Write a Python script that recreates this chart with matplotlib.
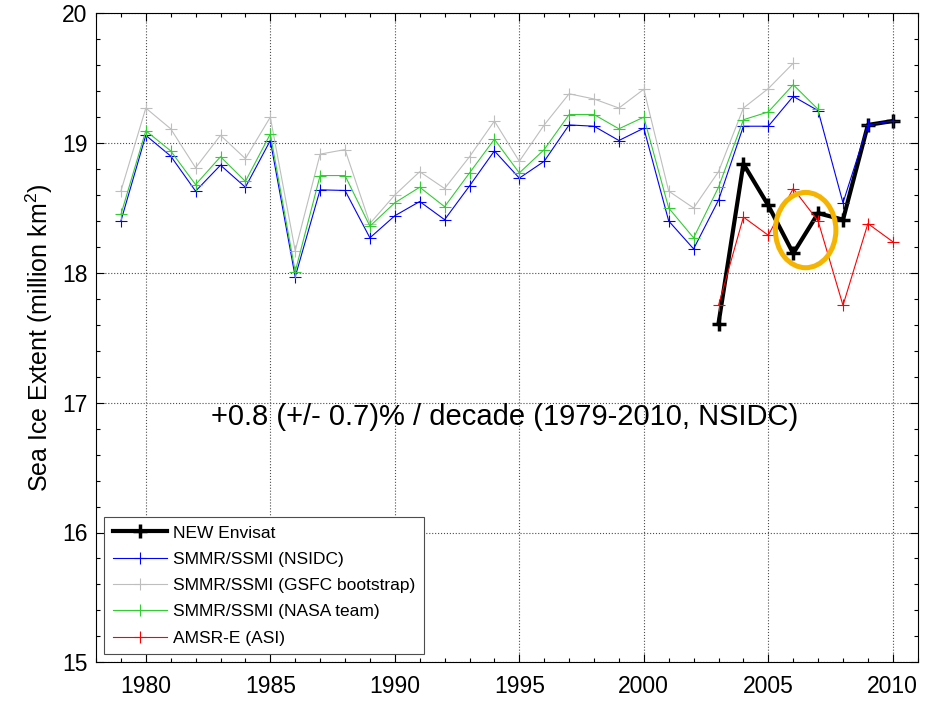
import numpy as np
import matplotlib
matplotlib.use("Agg")
import matplotlib.pyplot as plt
from matplotlib.patches import Ellipse
from matplotlib.ticker import MultipleLocator

plt.rcParams['font.family'] = ['Liberation Sans', 'DejaVu Sans']
plt.rcParams['mathtext.fontset'] = 'custom'
plt.rcParams['mathtext.rm'] = 'Liberation Sans'
plt.rcParams['mathtext.it'] = 'Liberation Sans'

# yearly sea ice extent, million km^2
years_nsidc = np.arange(1979, 2011)
nsidc = [18.40, 19.06, 18.90, 18.63, 18.83, 18.66, 19.02, 17.97, 18.64, 18.635,
         18.27, 18.44, 18.55, 18.41, 18.67, 18.94, 18.73, 18.86, 19.14, 19.13,
         19.02, 19.115, 18.40, 18.185, 18.56, 19.13, 19.13, 19.36, 19.25, 18.54,
         19.14, 19.17]

years_gsfc = np.arange(1979, 2007)
gsfc = [18.63, 19.27, 19.11, 18.81, 19.06, 18.88, 19.20, 18.17, 18.915, 18.95,
        18.38, 18.60, 18.78, 18.65, 18.895, 19.17, 18.86, 19.14, 19.38, 19.34,
        19.27, 19.415, 18.63, 18.50, 18.78, 19.27, 19.42, 19.615]

years_nasa = np.arange(1979, 2008)
nasa = [18.45, 19.095, 18.94, 18.68, 18.895, 18.705, 19.07, 18.01, 18.75, 18.75,
        18.36, 18.54, 18.66, 18.51, 18.77, 19.03, 18.77, 18.95, 19.22, 19.22,
        19.11, 19.20, 18.50, 18.27, 18.66, 19.18, 19.24, 19.45, 19.26]

years_sat = np.arange(2003, 2011)
envisat = [17.61, 18.84, 18.52, 18.15, 18.46, 18.41, 19.14, 19.17]
amsre = [17.75, 18.43, 18.29, 18.65, 18.40, 17.75, 18.38, 18.24]

fig = plt.figure(figsize=(9.38, 7.04), dpi=100)
ax = fig.add_axes([96 / 938, 1 - 662.3 / 704, 821.7 / 938, 649 / 704])

thin = dict(lw=0.8, marker='+', ms=9, mew=0.8)
ax.plot(years_sat, envisat, color='black', lw=3, marker='+', ms=10, mew=2.5,
        label='NEW Envisat')
ax.plot(years_nsidc, nsidc, color='#0000ff', label='SMMR/SSMI (NSIDC)', **thin)
ax.plot(years_gsfc, gsfc, color='#bebebe', label='SMMR/SSMI (GSFC bootstrap)', **thin)
ax.plot(years_nasa, nasa, color='#33cc33', label='SMMR/SSMI (NASA team)', **thin)
ax.plot(years_sat, amsre, color='#ff0000', label='AMSR-E (ASI)', **thin)

ax.add_patch(Ellipse((2006.5, 18.33), 2.43, 0.58, fill=False,
                     edgecolor='#f5b400', lw=3.6, zorder=5))

ax.text(1994.42, 16.83, '+0.8 (+/- 0.7)% / decade (1979-2010, NSIDC)',
        ha='center', va='baseline', fontsize=21)

ax.set_xlim(1978, 2011)
ax.set_ylim(15, 20)
ax.xaxis.set_major_locator(MultipleLocator(5))
ax.xaxis.set_minor_locator(MultipleLocator(1))
ax.yaxis.set_major_locator(MultipleLocator(1))
ax.yaxis.set_minor_locator(MultipleLocator(0.2))
ax.tick_params(which='both', direction='in', top=True, right=True, labelsize=16.5)
ax.tick_params(which='major', length=5.5, width=0.8)
ax.tick_params(which='minor', length=3, width=0.8)
ax.tick_params(axis='x', pad=9)
ax.tick_params(axis='y', pad=6)
ax.grid(True, which='major', linestyle=':', color='0.3', lw=0.8)

ax.set_ylabel('Sea Ice Extent (million km$^2$)', fontsize=18, labelpad=5)

leg = ax.legend(loc='lower left', bbox_to_anchor=(8 / 821.7, 8 / 649),
                borderaxespad=0, fontsize=12.5, handlelength=3.1, handletextpad=0.35,
                labelspacing=0.64, fancybox=False, framealpha=1, borderpad=0.5)
leg.get_frame().set_edgecolor('0.3')
leg.get_frame().set_linewidth(0.8)

fig.savefig('out.png', dpi=100)
